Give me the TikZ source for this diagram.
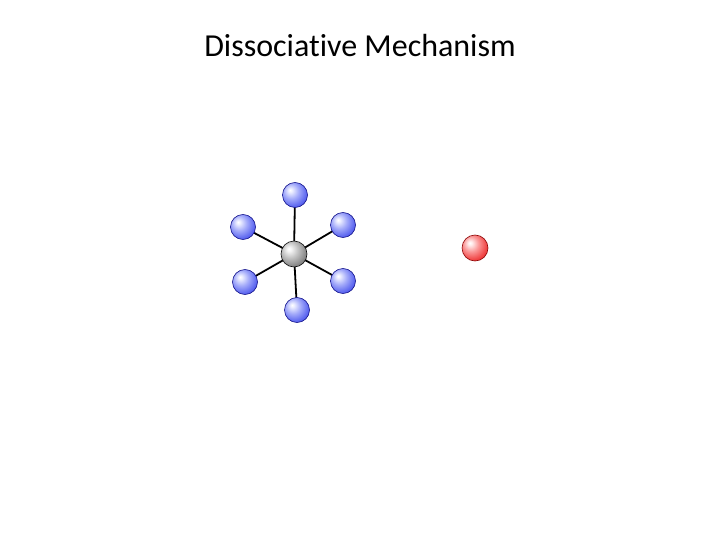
\documentclass[tikz,border=0pt]{standalone}
\usepackage{fontspec}
\setmainfont[Ligatures=NoCommon]{Carlito}
\definecolor{bA}{RGB}{235,237,255}
\definecolor{bB}{RGB}{165,172,250}
\definecolor{bC}{RGB}{95,105,240}
\definecolor{bD}{RGB}{45,50,220}
\definecolor{bE}{RGB}{20,20,140}
\definecolor{gA}{RGB}{245,245,245}
\definecolor{gB}{RGB}{195,195,195}
\definecolor{gC}{RGB}{130,130,130}
\definecolor{gD}{RGB}{70,70,70}
\definecolor{gE}{RGB}{15,15,15}
\definecolor{rA}{RGB}{255,235,235}
\definecolor{rB}{RGB}{250,150,150}
\definecolor{rC}{RGB}{240,70,70}
\definecolor{rD}{RGB}{220,20,20}
\definecolor{rE}{RGB}{140,5,5}
\pgfdeclareradialshading{blueball}{\pgfpoint{-10bp}{10bp}}{color(0bp)=(white); color(4bp)=(bA); color(15bp)=(bB); color(28bp)=(bC); color(40bp)=(bD); color(54bp)=(bE); color(70bp)=(bE)}
\pgfdeclareradialshading{grayball}{\pgfpoint{-10bp}{10bp}}{color(0bp)=(white); color(4bp)=(gA); color(15bp)=(gB); color(30bp)=(gC); color(44bp)=(gD); color(56bp)=(gE); color(70bp)=(gE)}
\pgfdeclareradialshading{redball}{\pgfpoint{-10bp}{10bp}}{color(0bp)=(white); color(4bp)=(rA); color(15bp)=(rB); color(28bp)=(rC); color(40bp)=(rD); color(54bp)=(rE); color(70bp)=(rE)}
\begin{document}
\begin{tikzpicture}[x=1pt,y=-1pt,
  lig/.style={circle,minimum size=25pt,inner sep=0pt,shading=blueball,draw=bE,line width=0.6pt},
  metal/.style={circle,minimum size=26pt,inner sep=0pt,shading=grayball,draw=gE,line width=0.6pt},
  entering/.style={circle,minimum size=26pt,inner sep=0pt,shading=redball,draw=rE,line width=0.6pt},
  bond/.style={line width=1.8pt,black}]
\useasboundingbox[fill=white] (0,0) rectangle (720,540);
\node[font=\fontsize{32}{36}\selectfont] (title) at (360,46) {Dissociative Mechanism};
\coordinate (mc) at (294,254);
\foreach \n/\x/\y in {t/295/195, ul/243/227, ur/343/225, ll/245/282, lr/343/281, b/297/310}{
  \coordinate (c\n) at (\x,\y);
  \draw[bond] (mc) -- (c\n);
}
\node[metal] (m) at (mc) {};
\foreach \n in {t,ul,ur,ll,lr,b}{
  \node[lig] (l\n) at (c\n) {};
}
\node[entering] (red) at (475,248) {};
\end{tikzpicture}
\end{document}
